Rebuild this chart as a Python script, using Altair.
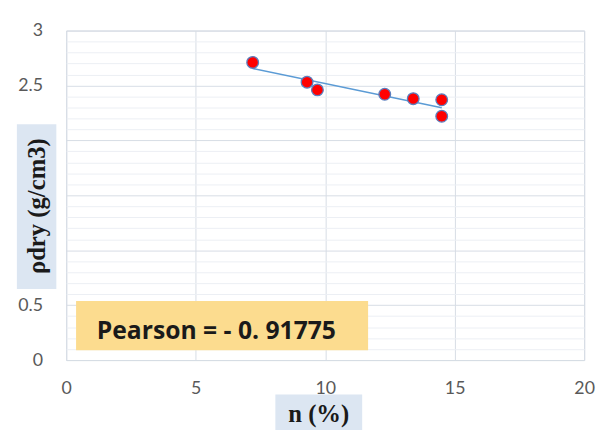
import altair as alt
import pandas as pd

# data
n_pct = [7.2, 9.3, 9.7, 12.3, 13.4, 14.5, 14.5]
rho_dry = [2.71, 2.53, 2.46, 2.42, 2.38, 2.37, 2.22]

x_ticks = [0, 5, 10, 15, 20]
y_ticks = [round(i * 0.1, 1) for i in range(31)]

x_title = "n (%)"
y_title = "ρdry (g/cm3)"
pearson_text = "Pearson = - 0. 91775"

df = pd.DataFrame({"n": n_pct, "rho": rho_dry})

W, H = 525, 334
GRID_MAJOR = "#d6dce5"
GRID_MINOR = "#eceff4"
LABEL_COLOR = "#595959"

xscale = alt.Scale(domain=[0, 20], nice=False, zero=True)
yscale = alt.Scale(domain=[0, 3], nice=False, zero=True)

x_axis = alt.Axis(
    values=x_ticks, title=None, grid=True, gridColor=GRID_MAJOR, gridWidth=1,
    ticks=False, domain=False, labelFont="Lato", labelFontSize=18,
    labelColor=LABEL_COLOR, labelPadding=20, labelFlush=False,
)
major_test = "abs(datum.value*2 - round(datum.value*2)) < 0.001"
y_axis = alt.Axis(
    values=y_ticks, title=None, grid=True,
    gridColor={"condition": {"test": major_test, "value": GRID_MAJOR}, "value": GRID_MINOR},
    gridWidth=1, ticks=False, domain=False, labelFont="Lato", labelFontSize=18,
    labelColor=LABEL_COLOR, labelPadding=24, labelOverlap=False, format="~g",
    labelExpr=f"({major_test}) ? datum.label : ''", labelFlush=False,
)

base = alt.Chart(df)

trend = base.transform_regression("n", "rho").mark_line(
    color="#5b9bd5", strokeWidth=1.6
).encode(
    x=alt.X("n:Q", scale=xscale, axis=x_axis),
    y=alt.Y("rho:Q", scale=yscale, axis=y_axis),
)

points = base.mark_point(
    shape="circle", filled=True, size=140, fill="#ff0000", opacity=1,
    stroke="#5b7fbf", strokeWidth=1.3,
).encode(
    x=alt.X("n:Q", scale=xscale, axis=x_axis),
    y=alt.Y("rho:Q", scale=yscale, axis=y_axis),
)

one = alt.Chart(pd.DataFrame({"k": [0]}))

# y-axis title box
ybox = one.mark_rect(color="#dce6f2").encode(
    x=alt.value(-50), x2=alt.value(-10), y=alt.value(95), y2=alt.value(262)
)
ytext = one.mark_text(
    text=y_title, angle=270, font="Liberation Serif", fontWeight="bold",
    fontSize=25, color="#1a1a1a", align="center", baseline="middle",
).encode(x=alt.value(-29), y=alt.value(178))

# x-axis title box
xbox = one.mark_rect(color="#dce6f2").encode(
    x=alt.value(212), x2=alt.value(300), y=alt.value(369), y2=alt.value(410)
)
xtext = one.mark_text(
    text=x_title, font="Liberation Serif", fontWeight="bold",
    fontSize=25, color="#1a1a1a", align="center", baseline="middle",
).encode(x=alt.value(256), y=alt.value(389))

# Pearson annotation box
pbox = one.mark_rect(color="#fcdc8f").encode(
    x=alt.value(10), x2=alt.value(306), y=alt.value(274), y2=alt.value(324)
)
ptext = one.mark_text(
    text=pearson_text, font="Open Sans", fontWeight="bold", fontSize=25,
    color="#1a1a1a", align="left", baseline="alphabetic",
).encode(x=alt.value(31), y=alt.value(313))

chart = alt.layer(
    trend, points, ybox, ytext, xbox, xtext, pbox, ptext
).properties(
    width=W, height=H,
    autosize=alt.AutoSizeParams(type="none"),
    padding={"left": 59, "top": 20, "right": 12, "bottom": 68},
    background="white",
).configure_view(
    stroke="#d3d9e2", strokeWidth=1
)

chart.save("out.html", embed_options={"renderer": "svg", "actions": False})
